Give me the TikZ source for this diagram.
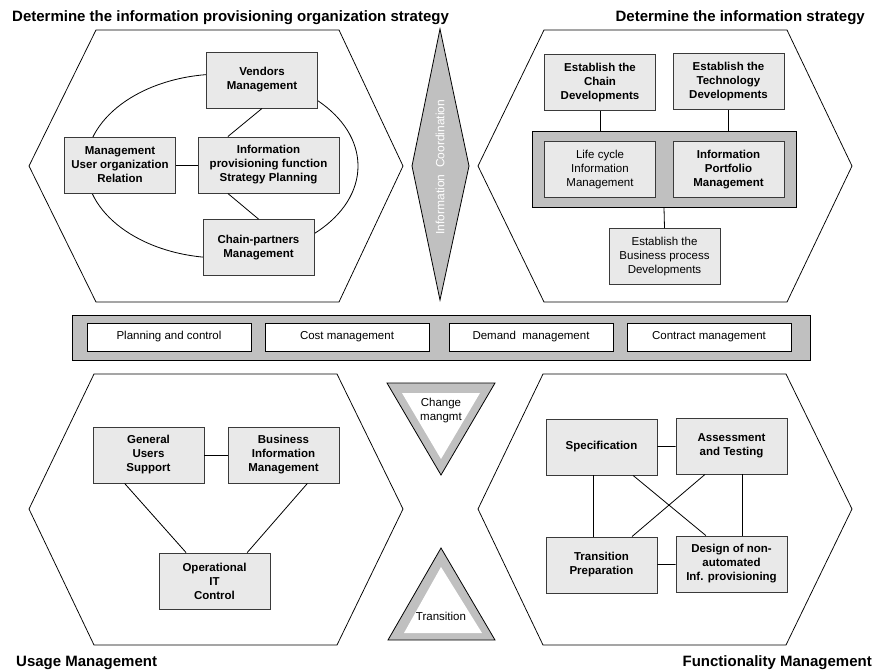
\documentclass[tikz,border=0pt]{standalone}
\usepackage{fontspec}
\setmainfont{Liberation Sans}
\usepackage{xcolor}
\definecolor{silver}{HTML}{C0C0C0}
\definecolor{stipple}{HTML}{E9E9E9}
\definecolor{boxline}{HTML}{3A3A3A}
\tikzstyle{hexa} = [draw=black, line width=0.75pt]
\tikzstyle{task} = [rectangle, draw=boxline, fill=stipple, line width=0.9pt, minimum width=111pt, minimum height=56pt, inner sep=1pt, align=center, font=\fontsize{11.5}{14}\selectfont\bfseries]
\tikzstyle{softtask} = [task, font=\fontsize{11.5}{14}\selectfont]
\tikzstyle{tray} = [rectangle, draw=black, fill=silver, line width=0.9pt]
\tikzstyle{cell} = [rectangle, draw=black, fill=white, line width=0.8pt, minimum width=164pt, minimum height=28pt, font=\fontsize{11.5}{13}\selectfont]
\tikzstyle{link} = [draw=black, line width=0.8pt]
\tikzstyle{heading} = [font=\fontsize{15}{18}\selectfont\bfseries, inner sep=0pt]

\begin{document}
\begin{tikzpicture}[x=1pt,y=-1pt]
    \useasboundingbox (0,0) rectangle (876,670);

    % the four hexagons
    \draw [hexa] (96,30) -- (339,30) -- (403,166) -- (339,302) -- (96,302) -- (29,166) -- cycle;
    \draw [hexa] (544,30) -- (787,30) -- (852,166) -- (787,302) -- (544,302) -- (478,166) -- cycle;
    \draw [hexa] (94,374) -- (337,374) -- (403,509) -- (337,645) -- (94,645) -- (29,509) -- cycle;
    \draw [hexa] (543,374) -- (786,374) -- (852,509) -- (786,645) -- (543,645) -- (478,509) -- cycle;

    % headings
    \node (h1) [heading, anchor=base west] at (12,21) {Determine the information provisioning organization strategy};
    \node (h2) [heading, anchor=base east] at (865,21) {Determine the information strategy};
    \node (h3) [heading, anchor=base west] at (16,666) {Usage Management};
    \node (h4) [heading, anchor=base east] at (872,666) {Functionality Management};

    % information coordination
    \draw [fill=silver, line width=0.8pt] (440,29) -- (469,166) -- (440,300) -- (412,166) -- cycle;
    \node (coord) [rotate=90, text=white, font=\fontsize{12}{14}\selectfont] at (440,167) {Information\ \ Coordination};

    % top left
    \draw [link] (222,166) ellipse [x radius=136, y radius=92];
    \node (vend) [task] at (262,80) {Vendors\\Management};
    \node (mur) [task] at (120,165) {Management\\User organization\\Relation};
    \node (isp) [task, minimum width=141pt] at (268.5,165) {Information\\provisioning function\\Strategy Planning};
    \node (cpm) [task] at (258.5,247.5) {Chain-partners\\Management};
    \draw [link] (vend.south) -- (isp.145);
    \draw [link] (cpm.north) -- (isp.215);
    \draw [link] (mur) -- (isp);

    % top right
    \node (core) [tray, minimum width=264pt, minimum height=76pt] at (664,169) {};
    \node (ecd) [task] at (600,82.5) {Establish the\\Chain\\Developments};
    \node (etd) [task] at (728.5,81.5) {Establish the\\Technology\\Developments};
    \node (lcim) [softtask] at (600,169.5) {Life cycle\\Information\\Management};
    \node (ipm) [task] at (728.5,169.5) {Information\\Portfolio\\Management};
    \node (ebd) [softtask] at (664.5,256.5) {Establish the\\Business process\\Developments};
    \draw [link] (ecd.south) -- (ecd.south |- core.north);
    \draw [link] (etd.south) -- (etd.south |- core.north);
    \draw [link] (core.south) -- (ebd.north);

    % middle bar
    \node (bar) [tray, minimum width=738pt, minimum height=45pt] at (441,337.5) {};
    \node (pc) [cell] at (169,337) {Planning and control};
    \node (cm) [cell] at (347,337) {Cost management};
    \node (dm) [cell] at (531,337) {Demand\ \ management};
    \node (ctm) [cell] at (709,337) {Contract management};

    % change and transition
    \draw [fill=silver, line width=0.8pt] (387,383) -- (495,383) -- (441,475) -- cycle;
    \fill [white] (402,393) -- (480,393) -- (441,459) -- cycle;
    \node (chg) [align=center, font=\fontsize{11.5}{14}\selectfont] at (441,411) {Change\\mangmt};
    \draw [fill=silver, line width=0.8pt] (441,548) -- (495,640) -- (388,640) -- cycle;
    \fill [white] (441,567) -- (482,633) -- (404,633) -- cycle;
    \node (trn) [font=\fontsize{11.5}{14}\selectfont] at (441,616) {Transition};

    % bottom left
    \node (gus) [task] at (148.5,455) {General\\Users\\Support};
    \node (bim) [task] at (283.5,455) {Business\\Information\\Management};
    \node (oit) [task] at (214.5,581) {Operational\\IT\\Control};
    \draw [link] (gus) -- (bim);
    \draw [link] (gus.230) -- (oit.135);
    \draw [link] (bim.310) -- (oit.41);

    % bottom right
    \node (spec) [task] at (601.5,447) {Specification};
    \node (ast) [task] at (731.5,446) {Assessment\\and Testing};
    \node (tp) [task] at (601.5,565) {Transition\\Preparation};
    \node (dna) [task] at (731.5,564) {Design of non-\\automated\\Inf. provisioning};
    \draw [link] (spec) -- (ast);
    \draw [link] (tp) -- (dna);
    \draw [link] (spec.255) -- (spec.255 |- tp.north);
    \draw [link] (ast.291) -- (ast.291 |- dna.north);
    \draw [link] (spec.318) -- (dna.132);
    \draw [link] (ast.227) -- (tp.43);
\end{tikzpicture}
\end{document}
